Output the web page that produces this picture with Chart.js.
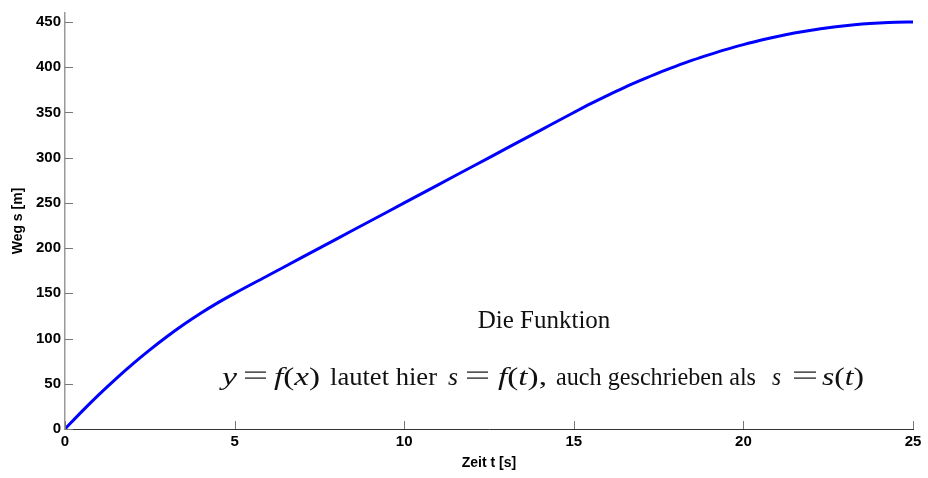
<!DOCTYPE html>
<html>
<head>
<meta charset="utf-8">
<script src="https://cdn.jsdelivr.net/npm/chart.js@4"></script>
<style>
html,body{margin:0;padding:0;background:#fff;}
#wrap{width:928px;height:478px;position:relative;}
</style>
</head>
<body>
<div id="wrap"><canvas id="c" width="928" height="478"></canvas></div>
<script>
// Data
const timeValues = [0,0.5,1,1.5,2,2.5,3,3.5,4,4.5,5,6,7,8,9,10,11,12,13,14,15,15.5,16,16.5,17,17.5,18,18.5,19,19.5,20,20.5,21,21.5,22,22.5,23,23.5,24,24.5,25];
const distanceValues = [0,19.5,38,55.5,72,87.5,102,115.5,128,139.5,150,170,190,210,230,250,270,290,310,330,350,359.8,369,377.8,386,393.8,401,407.8,414,419.8,425,429.8,434,437.8,441,443.8,446,447.8,449,449.8,450];
const xTickValues = [0,5,10,15,20,25];
const yTickValues = [0,50,100,150,200,250,300,350,400,450];
const xTitle = 'Zeit t [s]';
const yTitle = 'Weg s [m]';
const noteLine1 = 'Die Funktion';
// second annotation line, as groups of [text, style] pieces ('i' italic math, 'r' roman, 'e' equals sign)
const noteLine2 = [
  [['y','i']], [['=','e']], [['f','i'],['(','r'],['x','i'],[')','r']], [['lautet hier','r']],
  [['s','i']], [['=','e']], [['f','i'],['(','r'],['t','i'],[')','r'],[',','r']], [['auch geschrieben als','r']],
  [['s','i']], [['=','e']], [['s','i'],['(','r'],['t','i'],[')','r']]
];

const points = timeValues.map((t,i)=>({x:t,y:distanceValues[i]}));

const tickMarks = {
  id:'tickMarks',
  afterDraw(chart){
    const ctx = chart.ctx;
    const xs = chart.scales.x, ys = chart.scales.y;
    ctx.save();
    ctx.strokeStyle = '#777';
    ctx.lineWidth = 1;
    xTickValues.forEach(v=>{
      const px = Math.round(xs.getPixelForValue(v))+0.5;
      ctx.beginPath(); ctx.moveTo(px, ys.bottom); ctx.lineTo(px, ys.bottom-8); ctx.stroke();
    });
    yTickValues.forEach(v=>{
      const py = Math.round(ys.getPixelForValue(v))+0.5;
      ctx.beginPath(); ctx.moveTo(xs.left, py); ctx.lineTo(xs.left+8, py); ctx.stroke();
    });
    ctx.restore();
  }
};

const annotation = {
  id:'annotation',
  afterDraw(chart){
    const ctx = chart.ctx;
    ctx.save();
    ctx.fillStyle = '#111';
    ctx.textBaseline = 'alphabetic';
    const fam = 'px "Liberation Serif", "Times New Roman", serif';
    ctx.font = '25' + fam;
    ctx.textAlign = 'center';
    ctx.fillText(noteLine1, 544, 328);
    ctx.textAlign = 'left';
    const size = 25;
    const fontFor = (kind)=> (kind==='i'?'italic ':'') + size + fam;
    const baseY = 385;
    // horizontal extents of each group (pixels)
    const spans = [[222,237],[245,266],[274,320],[330,437],[448,458],[467,488],[498,547],[556,756],[772,781],[794,816],[822,864]];
    noteLine2.forEach((group,gi)=>{
      const [x0,x1] = spans[gi];
      if(group[0][1]==='e'){
        ctx.fillRect(x0, baseY-13.5, x1-x0, 1.2);
        ctx.fillRect(x0, baseY-7.5, x1-x0, 1.2);
        return;
      }
      let w = 0;
      group.forEach(([s,k])=>{ ctx.font = fontFor(k); w += ctx.measureText(s).width; });
      const sx = (x1-x0)/w;
      ctx.save();
      ctx.translate(x0, baseY);
      ctx.scale(sx, 1);
      let x = 0;
      group.forEach(([s,k])=>{ ctx.font = fontFor(k); ctx.fillText(s, x, 0); x += ctx.measureText(s).width; });
      ctx.restore();
    });
    ctx.restore();
  }
};

new Chart(document.getElementById('c'), {
  type:'line',
  data:{ datasets:[{ data: points, borderColor:'#0000ff', borderWidth:3, pointRadius:0, fill:false, tension:0.3, cubicInterpolationMode:'monotone' }] },
  options:{
    responsive:false, animation:false,
    layout:{ padding:{ left:0, right:15, top:9, bottom:0 } },
    plugins:{ legend:{display:false}, tooltip:{enabled:false} },
    scales:{
      x:{
        type:'linear', min:0, max:25,
        afterBuildTicks(s){ s.ticks = xTickValues.map(v=>({value:v})); },
        afterFit(s){ s.height = 49; },
        grid:{ display:false, drawTicks:false },
        border:{ display:true, color:'#333', width:1 },
        ticks:{ padding:4, color:'#000', font:{ family:'"Liberation Sans", Arial, sans-serif', size:15, weight:'bold' }, maxRotation:0 },
        title:{ display:true, text:xTitle, color:'#000', font:{ family:'"Liberation Sans", Arial, sans-serif', size:14, weight:'bold' }, padding:{top:0,bottom:6} }
      },
      y:{
        type:'linear', min:0, max:460,
        afterBuildTicks(s){ s.ticks = yTickValues.map(v=>({value:v})); },
        afterFit(s){ s.width = 65; },
        grid:{ display:false, drawTicks:false },
        border:{ display:true, color:'#999', width:1.5 },
        ticks:{ padding:4, color:'#000', font:{ family:'"Liberation Sans", Arial, sans-serif', size:15, weight:'bold' } },
        title:{ display:true, text:yTitle, color:'#000', font:{ family:'"Liberation Sans", Arial, sans-serif', size:14, weight:'bold' }, padding:{top:10,bottom:0} }
      }
    }
  },
  plugins:[tickMarks, annotation]
});
</script>
</body>
</html>
